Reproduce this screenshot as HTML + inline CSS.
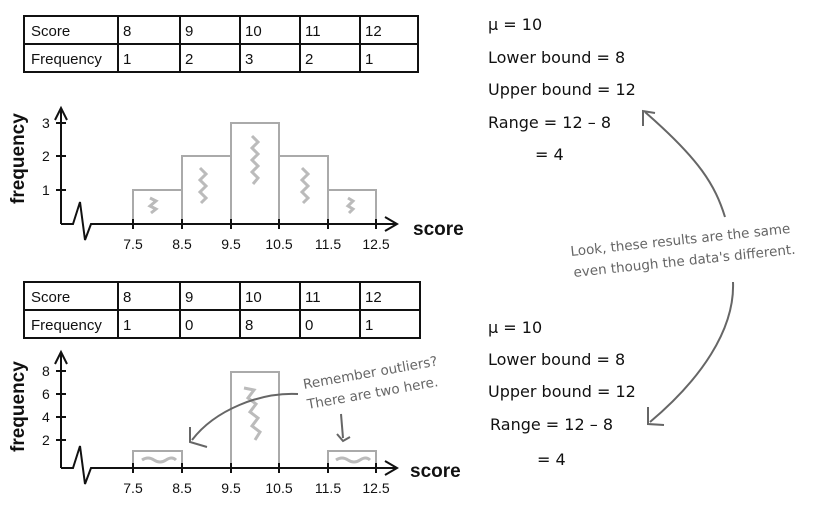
<!DOCTYPE html>
<html><head><meta charset="utf-8"><style>
html,body{margin:0;padding:0;background:#fff;width:827px;height:510px;overflow:hidden}
svg{display:block}
.t{font-family:"Liberation Sans",sans-serif;font-size:15px;fill:#111}
.ax{font-family:"Liberation Sans",sans-serif;font-size:14px;fill:#111}
.b{font-family:"Liberation Sans",sans-serif;font-size:19px;font-weight:bold;fill:#111}
.h{font-family:"DejaVu Sans",sans-serif;font-size:16px;fill:#111}
.g{font-family:"DejaVu Sans",sans-serif;font-size:13.5px;fill:#666}
</style></head><body>
<svg width="827" height="510" viewBox="0 0 827 510" xmlns="http://www.w3.org/2000/svg">
<g stroke="#111" stroke-width="2" fill="none">
<rect x="24" y="16" width="394" height="56"/>
<line x1="24" y1="44" x2="418" y2="44"/>
<line x1="118" y1="16" x2="118" y2="72"/><line x1="180" y1="16" x2="180" y2="72"/>
<line x1="240" y1="16" x2="240" y2="72"/><line x1="300" y1="16" x2="300" y2="72"/>
<line x1="360" y1="16" x2="360" y2="72"/>
</g>
<text class="t" x="31" y="36">Score</text><text class="t" x="123" y="36">8</text><text class="t" x="185" y="36">9</text><text class="t" x="245" y="36">10</text><text class="t" x="305" y="36">11</text><text class="t" x="365" y="36">12</text>
<text class="t" x="31" y="64">Frequency</text><text class="t" x="123" y="64">1</text><text class="t" x="185" y="64">2</text><text class="t" x="245" y="64">3</text><text class="t" x="305" y="64">2</text><text class="t" x="365" y="64">1</text>
<g stroke="#111" stroke-width="2" fill="none">
<rect x="24" y="282" width="396" height="56"/>
<line x1="24" y1="310" x2="420" y2="310"/>
<line x1="118" y1="282" x2="118" y2="338"/><line x1="180" y1="282" x2="180" y2="338"/>
<line x1="240" y1="282" x2="240" y2="338"/><line x1="300" y1="282" x2="300" y2="338"/>
<line x1="360" y1="282" x2="360" y2="338"/>
</g>
<text class="t" x="31" y="302">Score</text><text class="t" x="123" y="302">8</text><text class="t" x="185" y="302">9</text><text class="t" x="245" y="302">10</text><text class="t" x="305" y="302">11</text><text class="t" x="365" y="302">12</text>
<text class="t" x="31" y="330">Frequency</text><text class="t" x="123" y="330">1</text><text class="t" x="185" y="330">0</text><text class="t" x="245" y="330">8</text><text class="t" x="305" y="330">0</text><text class="t" x="365" y="330">1</text>

<g fill="none" stroke="#aaa" stroke-width="2">
<rect x="133" y="190" width="49" height="34"/><rect x="182" y="156" width="49" height="68"/>
<rect x="231" y="123" width="48" height="101"/><rect x="279" y="156" width="49" height="68"/>
<rect x="328" y="190" width="48" height="34"/>
<path d="M150 198 l6 3 -6 5 6 3 -5 4" stroke="#bbb" stroke-width="3"/>
<path d="M200 168 l6 6 -6 6 6 6 -6 6 6 6 -5 5" stroke="#bbb" stroke-width="3"/>
<path d="M252 136 l6 6 -6 6 6 6 -6 6 6 6 -6 6 6 6 -5 6" stroke="#bbb" stroke-width="3"/>
<path d="M302 168 l6 6 -6 6 6 6 -6 6 6 6 -5 5" stroke="#bbb" stroke-width="3"/>
<path d="M348 198 l5 3 -5 5 5 3 -4 4" stroke="#bbb" stroke-width="3"/>
</g>
<g fill="none" stroke="#111" stroke-width="2">
<path d="M61 224 V110 M55 120 L61 108 L67 120"/>
<path d="M61 224 H73 L80 202 L85 240 L91 224 H397 M385 217 L397 224 L385 231"/>
<path d="M56 123 H66 M56 156 H66 M56 190 H66"/>
<path d="M133 219 V229 M182 219 V229 M231 219 V229 M279 219 V229 M328 219 V229 M376 219 V229"/>
</g>
<text class="ax" x="42" y="128">3</text><text class="ax" x="42" y="161">2</text><text class="ax" x="42" y="195">1</text>
<g class="ax" text-anchor="middle"><text x="133" y="249">7.5</text><text x="182" y="249">8.5</text><text x="231" y="249">9.5</text><text x="279" y="249">10.5</text><text x="328" y="249">11.5</text><text x="376" y="249">12.5</text></g>
<text class="b" x="413" y="235">score</text>
<text class="b" transform="translate(24,204) rotate(-90)">frequency</text>

<g fill="none" stroke="#aaa" stroke-width="2">
<rect x="133" y="451" width="49" height="17"/><rect x="231" y="372" width="48" height="96"/>
<rect x="328" y="451" width="48" height="17"/>
<path d="M142 460 q6 -4 12 0 t12 0 t10 0" stroke="#bbb" stroke-width="3"/>
<path d="M336 460 q6 -4 12 0 t12 0 t10 0" stroke="#bbb" stroke-width="3"/>
<path d="M244 388 l10 2 -6 8 8 6 -6 8 8 6 -6 8 8 6 -5 8" stroke="#bbb" stroke-width="3"/>
</g>
<g fill="none" stroke="#111" stroke-width="2">
<path d="M61 468 V354 M55 364 L61 352 L67 364"/>
<path d="M61 468 H73 L80 446 L85 484 L91 468 H397 M385 461 L397 468 L385 475"/>
<path d="M56 371 H66 M56 394 H66 M56 417 H66 M56 440 H66"/>
<path d="M133 463 V473 M182 463 V473 M231 463 V473 M279 463 V473 M328 463 V473 M376 463 V473"/>
</g>
<text class="ax" x="42" y="376">8</text><text class="ax" x="42" y="399">6</text><text class="ax" x="42" y="422">4</text><text class="ax" x="42" y="445">2</text>
<g class="ax" text-anchor="middle"><text x="133" y="493">7.5</text><text x="182" y="493">8.5</text><text x="231" y="493">9.5</text><text x="279" y="493">10.5</text><text x="328" y="493">11.5</text><text x="376" y="493">12.5</text></g>
<text class="b" x="410" y="477">score</text>
<text class="b" transform="translate(24,452) rotate(-90)">frequency</text>

<g fill="none" stroke="#666" stroke-width="2">
<path d="M298 394 C260 392 215 410 192 440"/><path d="M190 427 L190 442 L207 447"/>
<path d="M341 414 L343 438"/><path d="M337 434 L343 441 L350 437"/>
</g>
<text class="g" transform="translate(304,389) rotate(-10)">Remember outliers?</text>
<text class="g" transform="translate(308,409) rotate(-10)">There are two here.</text>

<text class="h" x="488" y="30">μ = 10</text>
<text class="h" x="488" y="63">Lower bound = 8</text>
<text class="h" x="488" y="95">Upper bound = 12</text>
<text class="h" x="488" y="128">Range = 12 – 8</text>
<text class="h" x="535" y="160">= 4</text>
<text class="h" x="488" y="333">μ = 10</text>
<text class="h" x="488" y="365">Lower bound = 8</text>
<text class="h" x="488" y="397">Upper bound = 12</text>
<text class="h" x="490" y="430">Range = 12 – 8</text>
<text class="h" x="537" y="465">= 4</text>

<text class="g" transform="translate(571,256) rotate(-6)">Look, these results are the same</text>
<text class="g" transform="translate(574,277) rotate(-6)">even though the data's different.</text>
<g fill="none" stroke="#666" stroke-width="2">
<path d="M725 217 C715 185 700 160 645 112"/><path d="M643 126 L643 111 L655 113"/>
<path d="M733 282 C735 330 700 380 650 422"/><path d="M648 407 L648 424 L664 425"/>
</g>
</svg>
</body></html>
